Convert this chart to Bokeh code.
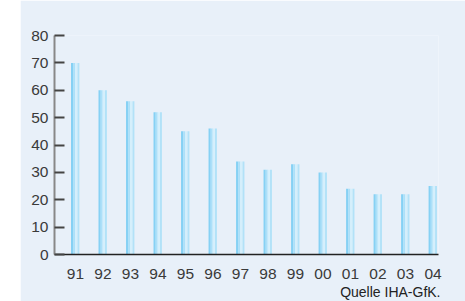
from bokeh.plotting import figure
from bokeh.models import ColumnDataSource, Range1d, FixedTicker, Title, Spacer
from bokeh.layouts import row
from bokeh.transform import dodge
from bokeh.embed import file_html
from bokeh.resources import INLINE

years = ["91", "92", "93", "94", "95", "96", "97", "98", "99", "00", "01", "02", "03", "04"]
units = [70, 60, 56, 52, 45, 46, 34, 31, 33, 30, 24, 22, 22, 25]
y_ticks = [0, 10, 20, 30, 40, 50, 60, 70, 80]
source_note = "Quelle IHA-GfK."

BG = "#e8f0f9"
FONT = "Liberation Sans"
idx = list(range(len(years)))
src = ColumnDataSource(dict(x=idx, top=units))

p = figure(width=445, height=301, output_backend="svg", toolbar_location=None,
           x_range=Range1d(-0.76, 13.2), y_range=Range1d(0, 80),
           min_border_left=34, min_border_right=27, min_border_top=35, min_border_bottom=47)
p.background_fill_color = BG
p.border_fill_color = BG
p.outline_line_color = None
p.grid.visible = False

# bar with a shaded (cylindrical) look: strips
strips = [(-0.12, 0.08, "#86d1f4"), (-0.045, 0.075, "#ace0f9"),
          (0.03, 0.08, "#d4effc"), (0.11, 0.07, "#b2e2f8")]
for off, w, c in strips:
    p.vbar(x=dodge("x", off), top="top", width=w, bottom=0, source=src,
           fill_color=c, line_color=None)

p.xaxis.ticker = FixedTicker(ticks=idx)
p.xaxis.major_label_overrides = {i: y for i, y in enumerate(years)}
p.xaxis.major_tick_line_color = None
p.xaxis.minor_tick_line_color = None
p.xaxis.axis_line_color = "#222222"
p.xaxis.axis_line_width = 1.5
p.xaxis.major_label_standoff = 8

p.yaxis.ticker = FixedTicker(ticks=y_ticks)
p.yaxis.minor_tick_line_color = None
p.yaxis.major_tick_in = 10
p.yaxis.major_tick_out = 0
p.yaxis.major_tick_line_color = "#444444"
p.yaxis.major_tick_line_width = 2
p.yaxis.axis_line_color = "#888888"
p.yaxis.axis_line_width = 2
p.yaxis.major_label_standoff = 6

for ax in (p.xaxis, p.yaxis):
    ax.major_label_text_font = FONT
    ax.major_label_text_font_size = "15.5px"
    ax.major_label_text_color = "#3a3a3a"

p.add_layout(Title(text=source_note, align="right", text_font=FONT, text_font_size="14px",
                   text_color="#222222", text_font_style="normal", offset=-2, standoff=1), "below")

layout = row(Spacer(width=20, height=301), p, spacing=0)
open("out.html", "w").write(file_html(layout, INLINE))
